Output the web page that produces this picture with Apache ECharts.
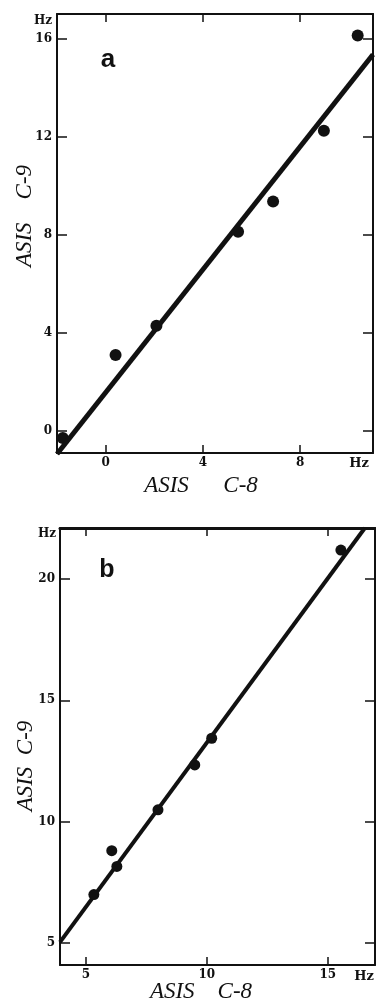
<!DOCTYPE html>
<html>
<head>
<meta charset="utf-8">
<script src="https://cdn.jsdelivr.net/npm/echarts@6/dist/echarts.min.js"></script>
<style>
  html, body { margin: 0; padding: 0; background: #fff; }
  #main { width: 376px; height: 1006px; }
</style>
</head>
<body>
<div id="main"></div>
<script>
var chartDom = document.getElementById('main');
var myChart = echarts.init(chartDom);
var option;

// panel a
const aC8 = [-1.76, 0.41, 2.09, 5.45, 6.89, 8.98, 10.37];
const aC9 = [-0.29, 3.1, 4.29, 8.12, 9.35, 12.24, 16.12];
const aFitC8 = [-2, 11];
const aFitC9 = [-0.94, 15.35];
const aTicksX = [0, 4, 8];
const aTicksY = [0, 4, 8, 12, 16];

// panel b
const bC8 = [5.33, 6.07, 6.28, 7.98, 9.5, 10.2, 15.54];
const bC9 = [7.0, 8.81, 8.16, 10.49, 12.34, 13.44, 21.19];
const bFitC8 = [3.93, 16.53];
const bFitC9 = [5.04, 22.1];
const bTicksX = [5, 10, 15];
const bTicksY = [5, 10, 15, 20];

const ink = '#111';
const tickFont = { color: ink, fontFamily: 'DejaVu Serif', fontWeight: 'bold', fontSize: 12 };
const nameFont = 'italic 23px "Liberation Serif"';
const sp = function (n) { return '\u00a0'.repeat(n); };

function pairs(xs, ys) {
  return xs.map(function (x, i) { return [x, ys[i]]; });
}

function axis(kind, grid, pos, min, max, ticks, labels, lineW) {
  return {
    type: 'value',
    gridIndex: grid,
    position: pos,
    min: min,
    max: max,
    splitLine: { show: false },
    axisLine: { show: true, onZero: false, lineStyle: { color: ink, width: lineW || 2 } },
    axisTick: {
      show: true,
      inside: true,
      length: kind === 'y' ? 10 : 8,
      customValues: ticks,
      lineStyle: { color: ink, width: 1.5 }
    },
    axisLabel: labels
      ? Object.assign({ show: true, margin: kind === 'y' ? 5 : 4, customValues: ticks }, tickFont)
      : { show: false }
  };
}

option = {
  backgroundColor: '#fff',
  animation: false,
  grid: [
    { left: 57, top: 14, width: 316, height: 439 },
    { left: 60, top: 528, width: 315, height: 437 }
  ],
  xAxis: [
    axis('x', 0, 'bottom', -2, 11, aTicksX, true),
    axis('x', 0, 'top', -2, 11, aTicksX, false),
    axis('x', 1, 'bottom', 3.93, 16.95, bTicksX, true),
    axis('x', 1, 'top', 3.93, 16.95, bTicksX, false, 3)
  ],
  yAxis: [
    axis('y', 0, 'left', -0.9, 17.0, aTicksY, true),
    axis('y', 0, 'right', -0.9, 17.0, aTicksY, false),
    axis('y', 1, 'left', 4.1, 22.1, bTicksY, true),
    axis('y', 1, 'right', 4.1, 22.1, bTicksY, false)
  ],
  series: [
    {
      type: 'line',
      xAxisIndex: 0,
      yAxisIndex: 0,
      data: pairs(aFitC8, aFitC9),
      symbol: 'none',
      lineStyle: { color: ink, width: 5 }
    },
    {
      type: 'scatter',
      xAxisIndex: 0,
      yAxisIndex: 0,
      data: pairs(aC8, aC9),
      symbolSize: 12,
      clip: false,
      itemStyle: { color: ink, opacity: 1 }
    },
    {
      type: 'line',
      xAxisIndex: 2,
      yAxisIndex: 2,
      data: pairs(bFitC8, bFitC9),
      symbol: 'none',
      lineStyle: { color: ink, width: 4 }
    },
    {
      type: 'scatter',
      xAxisIndex: 2,
      yAxisIndex: 2,
      data: pairs(bC8, bC9),
      symbolSize: 11,
      clip: false,
      itemStyle: { color: ink, opacity: 1 }
    }
  ],
  graphic: [
    // panel letters
    { type: 'text', x: 108, y: 60, style: { text: 'a', fill: ink, font: 'bold 26px "Liberation Sans"', textAlign: 'center', textVerticalAlign: 'middle' } },
    { type: 'text', x: 107, y: 570, style: { text: 'b', fill: ink, font: 'bold 25px "Liberation Sans"', textAlign: 'center', textVerticalAlign: 'middle' } },
    // unit labels
    { type: 'text', x: 43, y: 21, style: { text: 'Hz', fill: ink, font: 'bold 12px "DejaVu Serif"', textAlign: 'center', textVerticalAlign: 'middle' } },
    { type: 'text', x: 359, y: 464, style: { text: 'Hz', fill: ink, font: 'bold 13px "DejaVu Serif"', textAlign: 'center', textVerticalAlign: 'middle' } },
    { type: 'text', x: 47, y: 534, style: { text: 'Hz', fill: ink, font: 'bold 12px "DejaVu Serif"', textAlign: 'center', textVerticalAlign: 'middle' } },
    { type: 'text', x: 364, y: 977, style: { text: 'Hz', fill: ink, font: 'bold 13px "DejaVu Serif"', textAlign: 'center', textVerticalAlign: 'middle' } },
    // axis names
    { type: 'text', x: 201, y: 486, style: { text: 'ASIS' + sp(6) + 'C-8', fill: ink, font: nameFont, textAlign: 'center', textVerticalAlign: 'middle' } },
    { type: 'text', x: 25, y: 216, rotation: Math.PI / 2, style: { text: 'ASIS' + sp(4) + 'C-9', fill: ink, font: nameFont, textAlign: 'center', textVerticalAlign: 'middle' } },
    { type: 'text', x: 201, y: 992, style: { text: 'ASIS' + sp(4) + 'C-8', fill: ink, font: nameFont, textAlign: 'center', textVerticalAlign: 'middle' } },
    { type: 'text', x: 26, y: 766, rotation: Math.PI / 2, style: { text: 'ASIS' + sp(2) + 'C-9', fill: ink, font: nameFont, textAlign: 'center', textVerticalAlign: 'middle' } }
  ]
};

option && myChart.setOption(option);
</script>
</body>
</html>
